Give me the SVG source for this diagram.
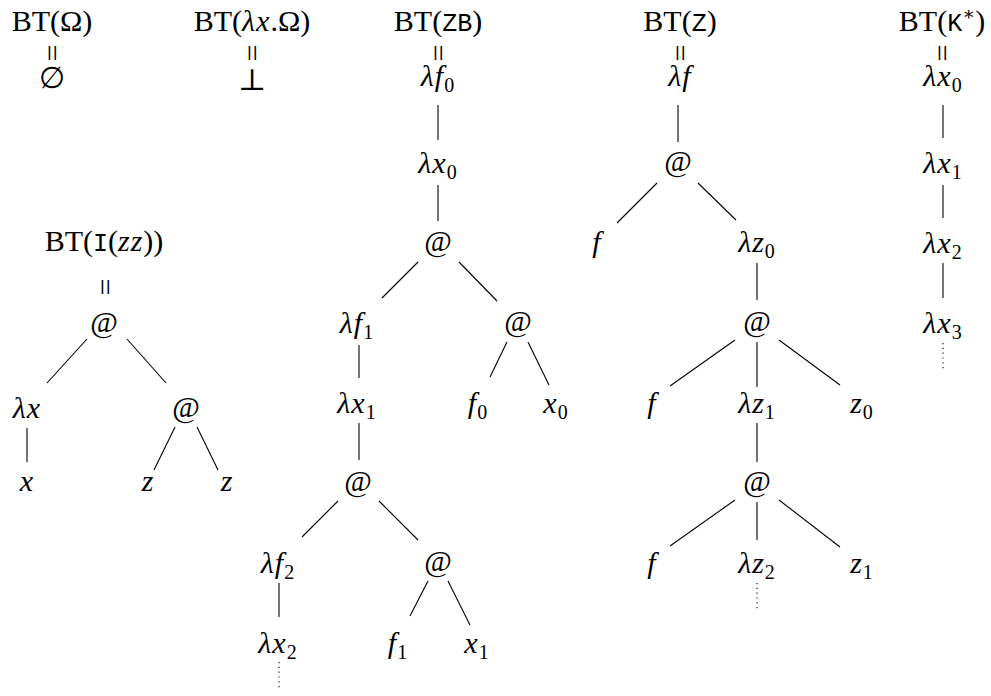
<svg xmlns="http://www.w3.org/2000/svg" width="991" height="696" viewBox="0 0 991 696">
<style>
text{font-family:'Liberation Serif','Times New Roman','DejaVu Serif',serif}
.r{font-size:30px;text-anchor:middle;fill:#000}
.i{font-style:italic;letter-spacing:1px}
.tt{font-family:'Liberation Mono','DejaVu Sans Mono',monospace;font-size:25px;font-style:normal;letter-spacing:0}
.sb{font-size:20px;font-style:normal}
.sp{font-size:19px}
.eq{font-size:30px;text-anchor:middle;dominant-baseline:central}
.c line{stroke:#000;stroke-width:1.1}
.c line.d{stroke-dasharray:1.2 3.6}
</style>
<rect width="991" height="696" fill="#fff"/>
<g id="connectors" class="c">
<line x1="438" y1="105" x2="438" y2="140"/>
<line x1="438" y1="185" x2="438" y2="221"/>
<line x1="418" y1="262" x2="382" y2="298"/>
<line x1="459" y1="262" x2="497" y2="301"/>
<line x1="359" y1="345" x2="359" y2="378"/>
<line x1="507" y1="342" x2="490" y2="377"/>
<line x1="528" y1="342" x2="549" y2="385"/>
<line x1="359" y1="423" x2="359" y2="460"/>
<line x1="338" y1="501" x2="302" y2="537"/>
<line x1="379" y1="501" x2="418" y2="540"/>
<line x1="279" y1="583" x2="279" y2="617"/>
<line x1="428" y1="581" x2="410" y2="616"/>
<line x1="448" y1="581" x2="470" y2="625"/>
<line class="d" x1="279" y1="662" x2="279" y2="690"/>
<line x1="678" y1="105" x2="678" y2="142"/>
<line x1="657" y1="183" x2="617" y2="223"/>
<line x1="698" y1="183" x2="736" y2="220"/>
<line x1="757" y1="263" x2="757" y2="300"/>
<line x1="735" y1="340" x2="670" y2="386"/>
<line x1="757" y1="342" x2="757" y2="387"/>
<line x1="779" y1="340" x2="840" y2="385"/>
<line x1="757" y1="423" x2="757" y2="462"/>
<line x1="735" y1="500" x2="670" y2="546"/>
<line x1="757" y1="502" x2="757" y2="540"/>
<line x1="779" y1="500" x2="840" y2="547"/>
<line class="d" x1="757" y1="583" x2="757" y2="610"/>
<line x1="943" y1="105" x2="943" y2="138"/>
<line x1="943" y1="185" x2="943" y2="218"/>
<line x1="943" y1="263" x2="943" y2="298"/>
<line class="d" x1="943" y1="343" x2="943" y2="370"/>
<line x1="87" y1="339" x2="47" y2="383"/>
<line x1="127" y1="339" x2="166" y2="383"/>
<line x1="27" y1="428" x2="27" y2="462"/>
<line x1="175" y1="427" x2="154" y2="470"/>
<line x1="197" y1="427" x2="218" y2="470"/>
</g>
<g id="n-bt-omega">
<text class="r" x="52" y="31">BT(Ω)</text>
<text class="eq" x="52" y="53" transform="rotate(90 52 53)">=</text>
<text class="r" x="52" y="88">∅</text>
</g>
<g id="n-bt-lam-omega">
<text class="r" x="252" y="31">BT(<tspan class="i">λx</tspan>.Ω)</text>
<text class="eq" x="252" y="53" transform="rotate(90 252 53)">=</text>
<text class="r" x="252" y="90">⊥</text>
</g>
<g id="n-bt-zb">
<text class="r" x="438" y="31">BT(<tspan class="tt">ZB</tspan>)</text>
<text class="eq" x="438" y="53" transform="rotate(90 438 53)">=</text>
</g>
<g id="zb-lf0"><text class="r i" x="438" y="86">λf<tspan class="sb" dy="6">0</tspan></text></g>
<g id="zb-lx0"><text class="r i" x="438" y="173">λx<tspan class="sb" dy="6">0</tspan></text></g>
<g id="zb-app0"><text class="r" x="438" y="251">@</text></g>
<g id="zb-lf1"><text class="r i" x="357" y="333">λf<tspan class="sb" dy="6">1</tspan></text></g>
<g id="zb-app1"><text class="r" x="518" y="331">@</text></g>
<g id="zb-lx1"><text class="r i" x="357" y="413">λx<tspan class="sb" dy="6">1</tspan></text></g>
<g id="zb-f0"><text class="r i" x="478" y="413">f<tspan class="sb" dy="6">0</tspan></text></g>
<g id="zb-x0"><text class="r i" x="556" y="413">x<tspan class="sb" dy="6">0</tspan></text></g>
<g id="zb-app2"><text class="r" x="358" y="491">@</text></g>
<g id="zb-lf2"><text class="r i" x="278" y="573">λf<tspan class="sb" dy="6">2</tspan></text></g>
<g id="zb-app3"><text class="r" x="438" y="571">@</text></g>
<g id="zb-lx2"><text class="r i" x="278" y="653">λx<tspan class="sb" dy="6">2</tspan></text></g>
<g id="zb-f1"><text class="r i" x="398" y="653">f<tspan class="sb" dy="6">1</tspan></text></g>
<g id="zb-x1"><text class="r i" x="477" y="653">x<tspan class="sb" dy="6">1</tspan></text></g>
<g id="n-bt-z">
<text class="r" x="680" y="31">BT(<tspan class="tt">Z</tspan>)</text>
<text class="eq" x="680" y="53" transform="rotate(90 680 53)">=</text>
</g>
<g id="z-lf"><text class="r i" x="680" y="86">λf</text></g>
<g id="z-app0"><text class="r" x="678" y="171">@</text></g>
<g id="z-f0"><text class="r i" x="597" y="252">f</text></g>
<g id="z-lz0"><text class="r i" x="757" y="252">λz<tspan class="sb" dy="6">0</tspan></text></g>
<g id="z-app1"><text class="r" x="757" y="331">@</text></g>
<g id="z-f1"><text class="r i" x="652" y="413">f</text></g>
<g id="z-lz1"><text class="r i" x="757" y="413">λz<tspan class="sb" dy="6">1</tspan></text></g>
<g id="z-z0"><text class="r i" x="862" y="413">z<tspan class="sb" dy="6">0</tspan></text></g>
<g id="z-app2"><text class="r" x="757" y="491">@</text></g>
<g id="z-f2"><text class="r i" x="652" y="573">f</text></g>
<g id="z-lz2"><text class="r i" x="757" y="573">λz<tspan class="sb" dy="6">2</tspan></text></g>
<g id="z-z1"><text class="r i" x="862" y="573">z<tspan class="sb" dy="6">1</tspan></text></g>
<g id="n-bt-k">
<text class="r" x="942" y="31">BT(<tspan class="tt">K</tspan><tspan class="sp" dy="-11">∗</tspan><tspan dy="11">)</tspan></text>
<text class="eq" x="942" y="53" transform="rotate(90 942 53)">=</text>
</g>
<g id="k-lx0"><text class="r i" x="943" y="86">λx<tspan class="sb" dy="6">0</tspan></text></g>
<g id="k-lx1"><text class="r i" x="943" y="173">λx<tspan class="sb" dy="6">1</tspan></text></g>
<g id="k-lx2"><text class="r i" x="943" y="253">λx<tspan class="sb" dy="6">2</tspan></text></g>
<g id="k-lx3"><text class="r i" x="943" y="333">λx<tspan class="sb" dy="6">3</tspan></text></g>
<g id="n-bt-izz">
<text class="r" x="104" y="251">BT(<tspan class="tt">I</tspan>(<tspan class="i">zz</tspan>))</text>
<text class="eq" x="105" y="287" transform="rotate(90 105 287)">=</text>
</g>
<g id="i-app0"><text class="r" x="104" y="332">@</text></g>
<g id="i-lx"><text class="r i" x="27" y="418">λx</text></g>
<g id="i-app1"><text class="r" x="186" y="417">@</text></g>
<g id="i-x"><text class="r i" x="27" y="491">x</text></g>
<g id="i-z0"><text class="r i" x="148" y="491">z</text></g>
<g id="i-z1"><text class="r i" x="227" y="491">z</text></g>
</svg>
